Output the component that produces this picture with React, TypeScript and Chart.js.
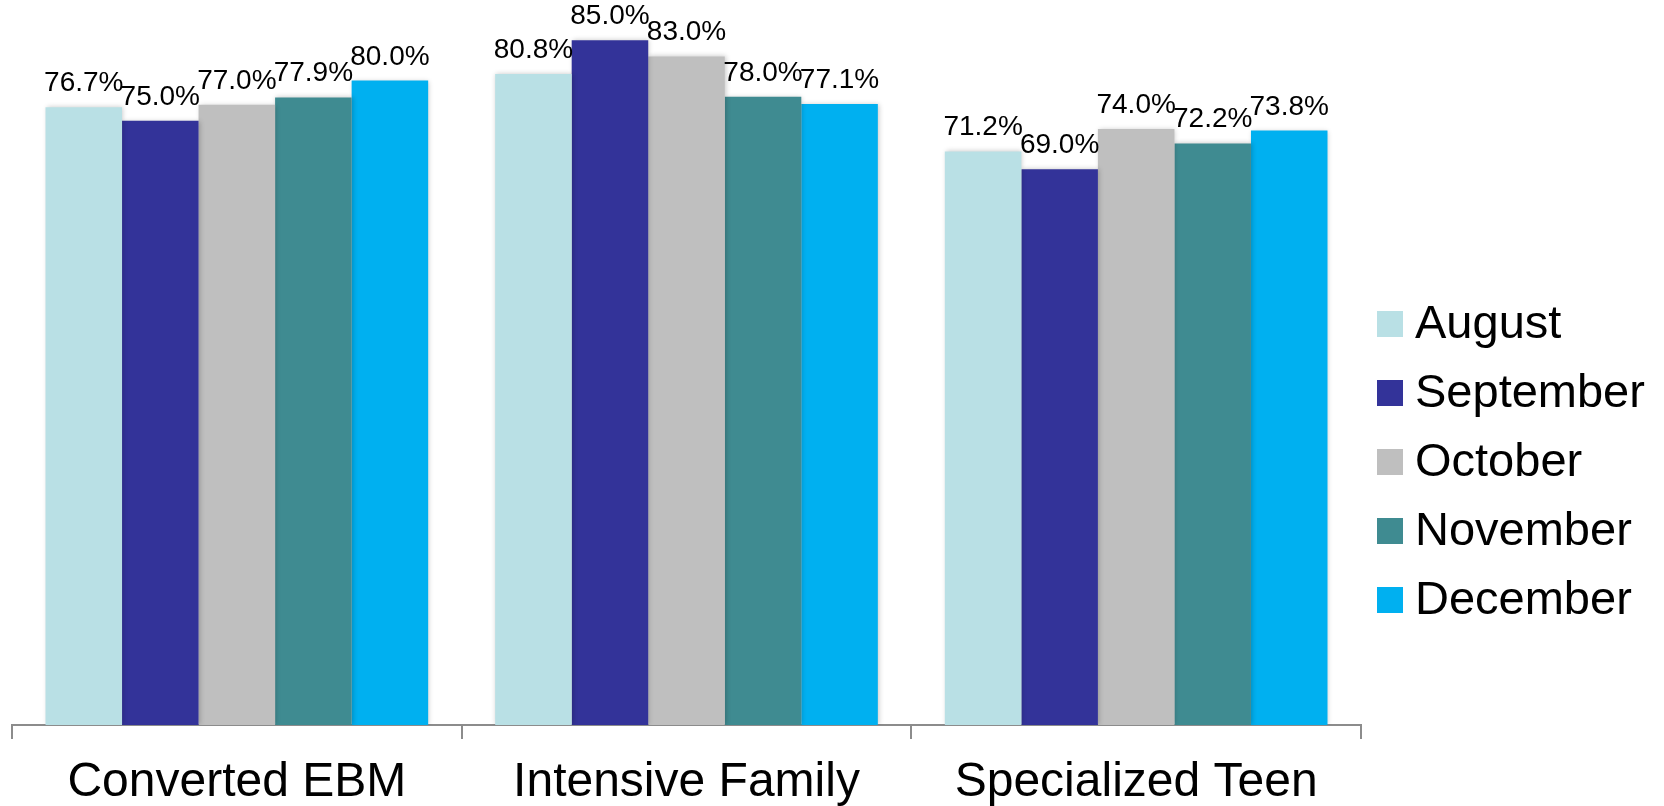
import React, { useEffect, useRef } from "react";
import { Chart, registerables } from "chart.js";

Chart.register(...registerables);

const categories = ["Converted EBM", "Intensive Family", "Specialized Teen"];
const seriesNames = ["August", "September", "October", "November", "December"];
const august = [76.7, 80.8, 71.2];
const september = [75.0, 85.0, 69.0];
const october = [77.0, 83.0, 74.0];
const november = [77.9, 78.0, 72.2];
const december = [80.0, 77.1, 73.8];
const seriesColors = ["#B9E0E5", "#333399", "#BFBFBF", "#3F8B91", "#00B0F0"];
const yMax = 90;

const FONT = '"Liberation Sans", Arial, sans-serif';

const labelPlugin = {
  id: "valueLabels",
  afterDatasetsDraw(chart: any) {
    const ctx = chart.ctx;
    ctx.save();
    ctx.shadowColor = "transparent";
    ctx.font = `28px ${FONT}`;
    ctx.fillStyle = "#000";
    ctx.textAlign = "center";
    ctx.textBaseline = "alphabetic";
    chart.data.datasets.forEach((ds: any, i: number) => {
      const meta = chart.getDatasetMeta(i);
      meta.data.forEach((bar: any, j: number) => {
        ctx.fillText(ds.data[j].toFixed(1) + "%", bar.x, bar.y - 16);
      });
    });
    ctx.restore();
  },
};

const shadowPlugin = {
  id: "barShadow",
  beforeDatasetsDraw(chart: any) {
    const ctx = chart.ctx;
    ctx.save();
    ctx.shadowColor = "rgba(0,0,0,0.22)";
    ctx.shadowBlur = 5;
    ctx.shadowOffsetX = 1;
    ctx.shadowOffsetY = 0;
  },
  afterDatasetsDraw(chart: any) {
    chart.ctx.restore();
  },
};

const legendPlugin = {
  id: "customLegend",
  afterDraw(chart: any) {
    const ctx = chart.ctx;
    ctx.save();
    ctx.font = `47px ${FONT}`;
    ctx.textAlign = "left";
    ctx.textBaseline = "middle";
    const x0 = chart.chartArea.right + 16;
    chart.data.datasets.forEach((ds: any, i: number) => {
      const cy = 324 + i * 69;
      ctx.fillStyle = ds.backgroundColor;
      ctx.fillRect(x0, cy - 13, 26, 26);
      ctx.fillStyle = "#000";
      ctx.fillText(ds.label, x0 + 38, cy + 1);
    });
    ctx.restore();
  },
};

export default function App() {
  const ref = useRef<HTMLCanvasElement | null>(null);
  useEffect(() => {
    if (!ref.current) return;
    const values = [august, september, october, november, december];
    const chart = new Chart(ref.current, {
      type: "bar",
      data: {
        labels: categories,
        datasets: seriesNames.map((name, i) => ({
          label: name,
          data: values[i],
          backgroundColor: seriesColors[i],
          borderWidth: 0,
          categoryPercentage: 0.851,
          barPercentage: 1.0,
        })),
      },
      options: {
        responsive: false,
        animation: false,
        layout: { padding: { left: 12, right: 303, top: 0, bottom: -21 } },
        plugins: {
          legend: { display: false },
          tooltip: { enabled: false },
        },
        scales: {
          x: {
            grid: {
              display: true,
              offset: true,
              drawOnChartArea: false,
              drawTicks: true,
              tickLength: 14,
              color: "#8C8C8C",
              lineWidth: 2,
            },
            border: { display: true, color: "#8C8C8C", width: 2 },
            ticks: {
              color: "#000",
              padding: 20,
              font: { family: FONT, size: 48, lineHeight: 1 },
            },
          },
          y: { display: false, min: 0, max: yMax },
        },
      },
      plugins: [shadowPlugin, labelPlugin, legendPlugin],
    });
    return () => chart.destroy();
  }, []);
  return (
    <div style={{ position: "fixed", left: 0, top: 0, width: 1664, height: 806, background: "#fff" }}>
      <canvas ref={ref} width={1664} height={806} style={{ display: "block" }} />
    </div>
  );
}
